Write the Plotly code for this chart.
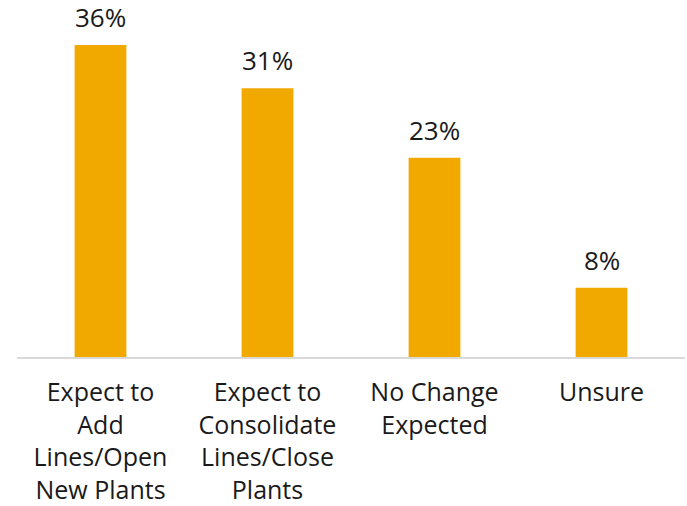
import plotly.graph_objects as go

categories = ["Expect to<br>Add<br>Lines/Open<br>New Plants",
              "Expect to<br>Consolidate<br>Lines/Close<br>Plants",
              "No Change<br>Expected",
              "Unsure"]
values = [36, 31, 23, 8]
labels = ["36%", "31%", "23%", "8%"]

FONT = "Open Sans, sans-serif"
TXT = "#1a1a1a"

fig = go.Figure(go.Bar(
    x=categories, y=values,
    marker=dict(color="#F1A900", line=dict(width=0)),
    cliponaxis=False,
))
for c, v, t in zip(categories, values, labels):
    fig.add_annotation(x=c, y=v, text=t, showarrow=False, yanchor="bottom",
                       yshift=8, font=dict(size=26, color=TXT, family=FONT))

fig.update_layout(
    width=687, height=506,
    margin=dict(l=17, r=2, t=0, b=149, autoexpand=False),
    paper_bgcolor="white", plot_bgcolor="white",
    bargap=0.69, showlegend=False,
    font=dict(family=FONT, size=25, color=TXT),
    yaxis=dict(range=[0, 41.19], visible=False),
    xaxis=dict(showline=True, linecolor="#d9d9d9", linewidth=2,
               tickfont=dict(size=25, color=TXT, family=FONT),
               ticks="", showgrid=False, automargin=False,
               ticklabelstandoff=12),
)
fig.write_html("out.html", config={"displayModeBar": False},
               post_script="document.body.style.margin='0';document.body.style.overflow='hidden';")
